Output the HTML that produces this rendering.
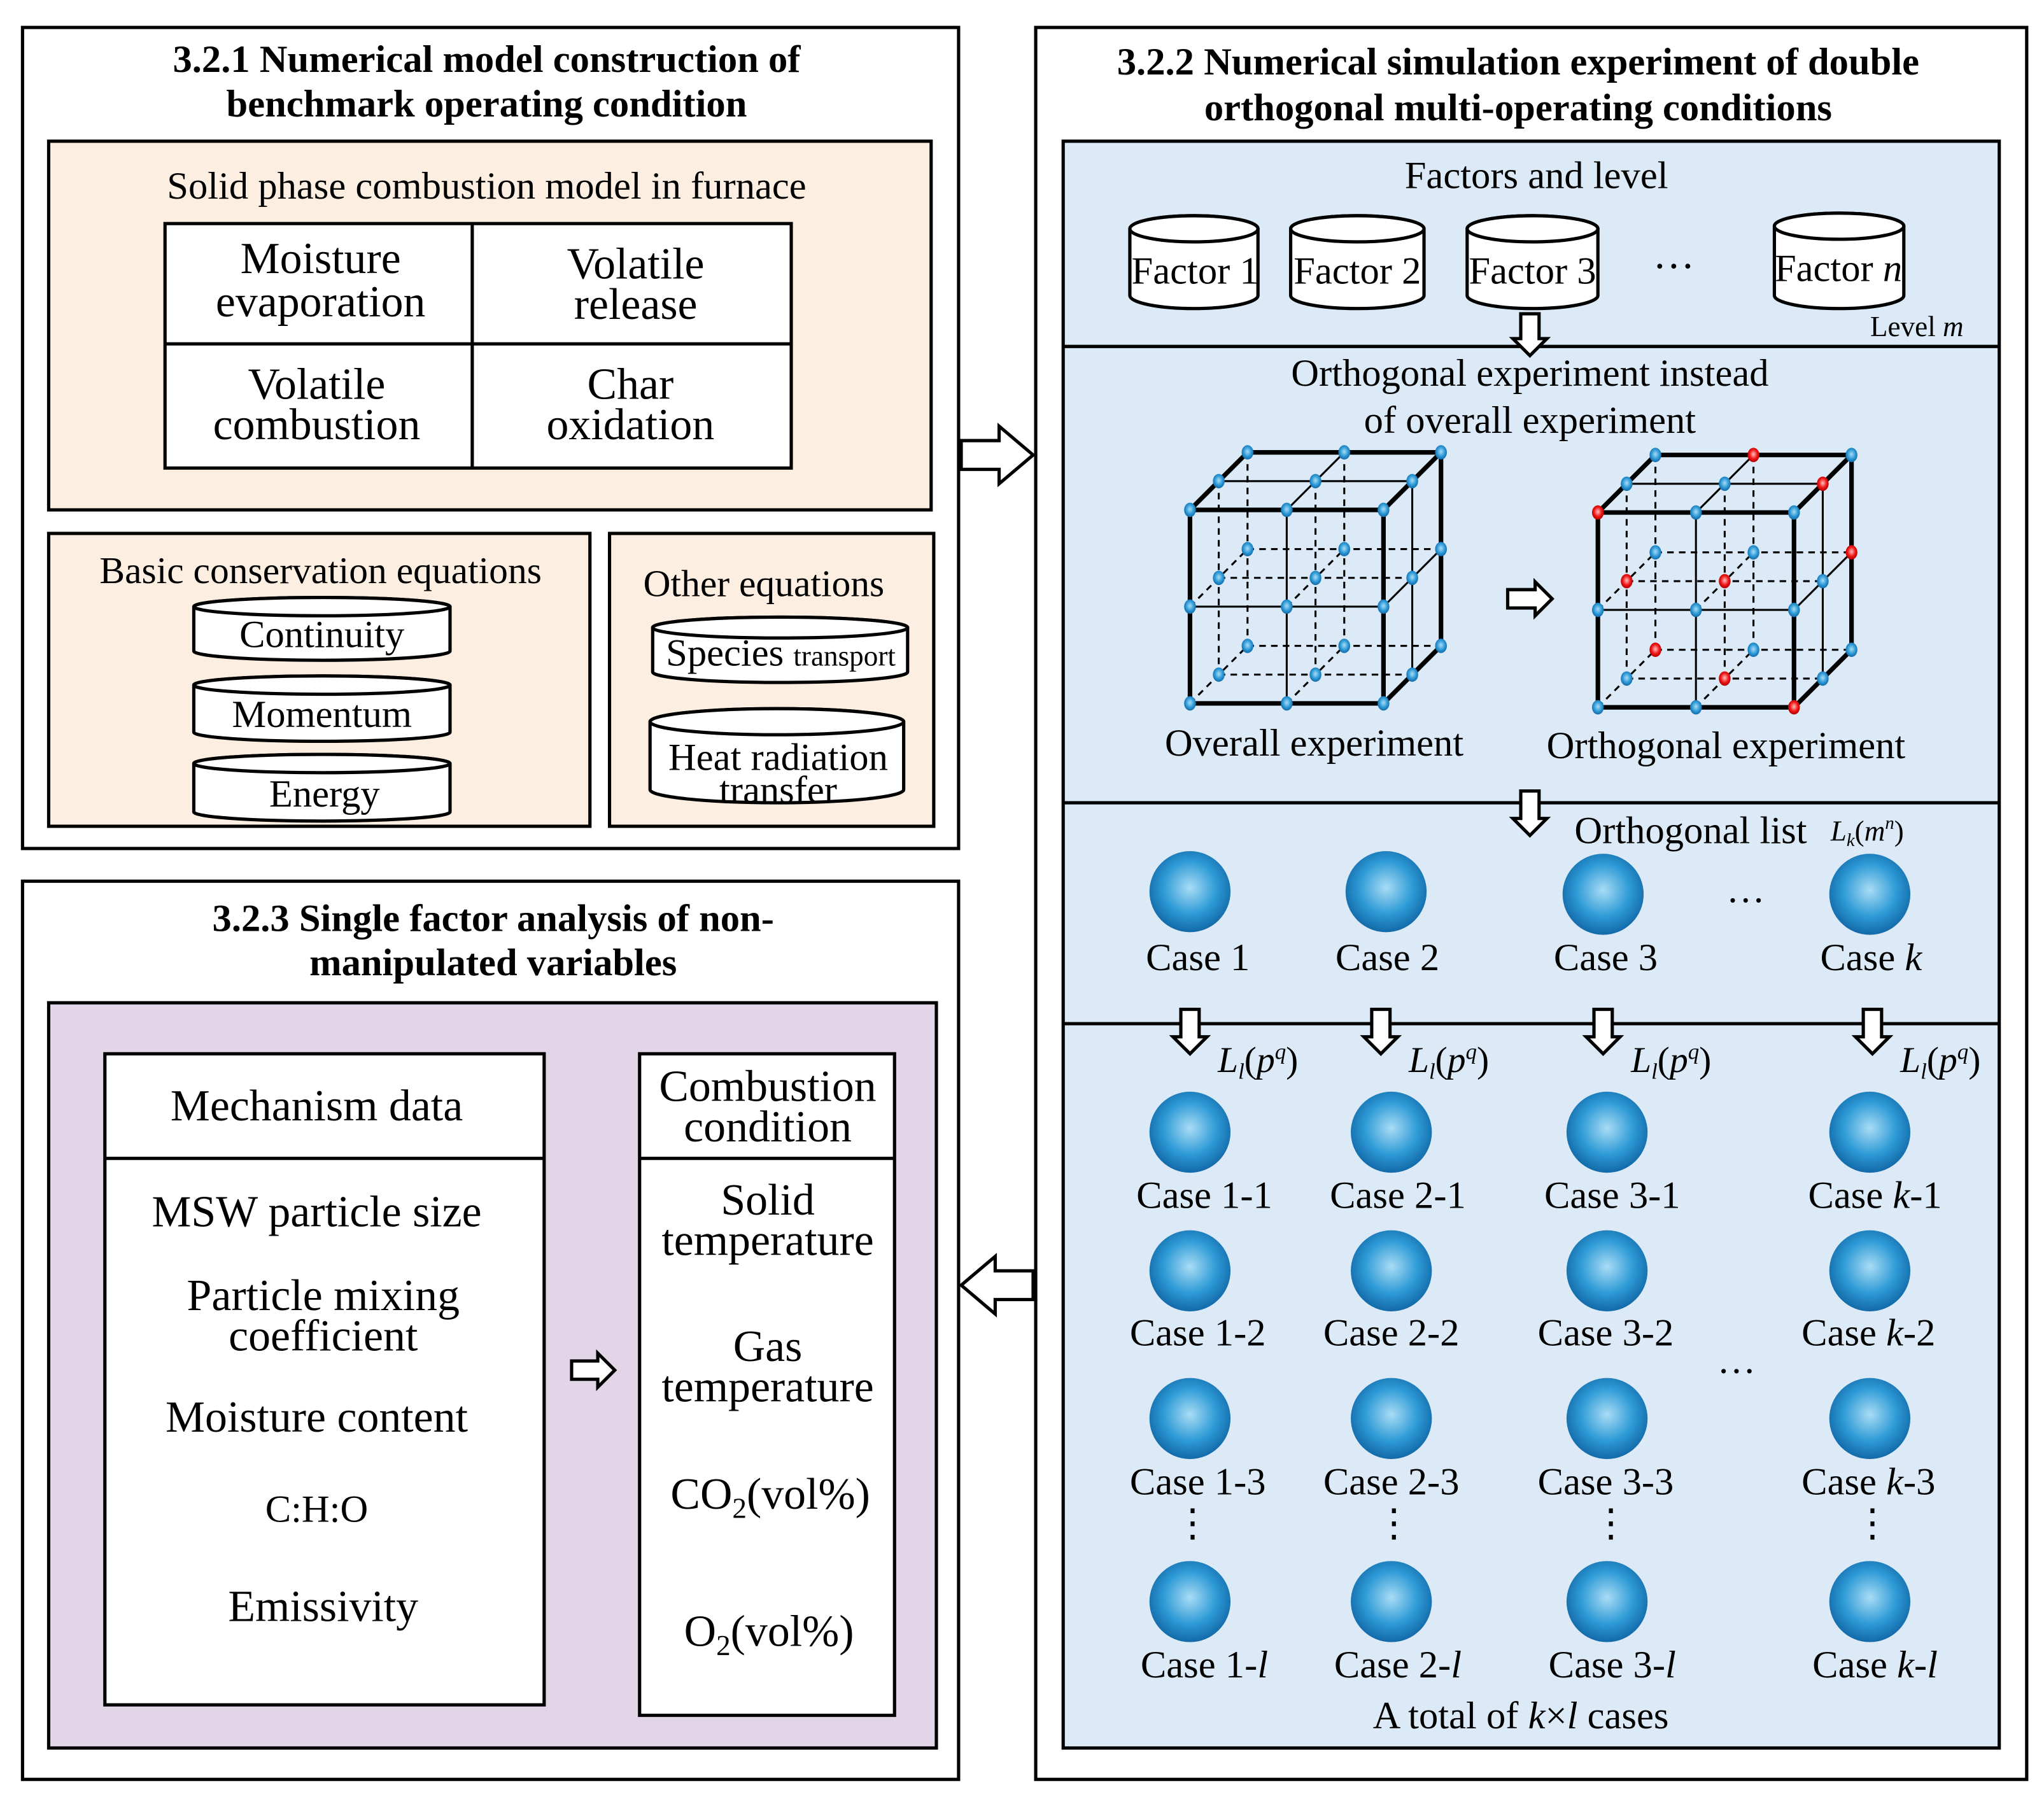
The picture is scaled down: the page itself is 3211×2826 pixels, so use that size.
<!DOCTYPE html>
<html><head><meta charset="utf-8"><style>
html,body{margin:0;padding:0;background:#fff}
svg{display:block}
text{font-family:"Liberation Serif",serif;fill:#000}
</style></head><body>
<svg id="s" width="3211" height="2826" viewBox="0 0 1563 1376" xmlns="http://www.w3.org/2000/svg">
<defs>
<radialGradient id="gb" cx="0.5" cy="0.45" r="0.55"><stop offset="0" stop-color="#a9dcf5"/><stop offset="0.6" stop-color="#2d9ad6"/><stop offset="1" stop-color="#1369a8"/></radialGradient>
<radialGradient id="gr" cx="0.5" cy="0.45" r="0.55"><stop offset="0" stop-color="#ffc0c0"/><stop offset="0.6" stop-color="#f01515"/><stop offset="1" stop-color="#b00000"/></radialGradient>
</defs>
<g fill="none" stroke="#000" stroke-width="2.5">
<rect x="17" y="21" width="716" height="628" fill="#fff"/>
<rect x="17" y="674" width="716" height="687" fill="#fff"/>
<rect x="792" y="21" width="758" height="1340" fill="#fff"/>
<rect x="37" y="108" width="675" height="282" fill="#fdeee2"/>
<rect x="37" y="408" width="414" height="224" fill="#fdeee2"/>
<rect x="466" y="408" width="248" height="224" fill="#fdeee2"/>
<rect x="37" y="767" width="679" height="570" fill="#e2d5e8"/>
<rect x="813" y="108" width="716" height="1229" fill="#dbeaf6"/>
<line x1="813" y1="265" x2="1529" y2="265"/><line x1="813" y1="614" x2="1529" y2="614"/><line x1="813" y1="783" x2="1529" y2="783"/>
<rect x="126" y="171" width="479" height="187" fill="#fff"/>
<line x1="361" y1="171" x2="361" y2="358"/><line x1="126" y1="263" x2="605" y2="263"/>
<rect x="80" y="806" width="336" height="498" fill="#fff"/><line x1="80" y1="886" x2="416" y2="886"/>
<rect x="489" y="806" width="195" height="506" fill="#fff"/><line x1="489" y1="886" x2="684" y2="886"/>
</g>
<g id="cyl" fill="#fff" stroke="#000" stroke-width="2.5"></g>
<g id="cube"></g>
<g id="arr" fill="#fff" stroke="#000" stroke-width="2.5"></g>
<g id="sph"></g>
<g font-size="29.5" font-weight="bold" text-anchor="middle">
<text x="372" y="55">3.2.1 Numerical model construction of</text>
<text x="372" y="89">benchmark operating condition</text>
<text x="1161" y="57">3.2.2 Numerical simulation experiment of double</text>
<text x="1161" y="92">orthogonal multi-operating conditions</text>
<text x="377" y="712">3.2.3 Single factor analysis of non-</text>
<text x="377" y="746">manipulated variables</text>
</g>
<g font-size="34" text-anchor="middle">
<text x="372" y="152" font-size="29.5">Solid phase combustion model in furnace</text>
<text x="245" y="209">Moisture</text><text x="245" y="242">evaporation</text>
<text x="486" y="213">Volatile</text><text x="486" y="244">release</text>
<text x="242" y="305">Volatile</text><text x="242" y="336">combustion</text>
<text x="482" y="305">Char</text><text x="482" y="336">oxidation</text>
<text x="245" y="446" font-size="29">Basic conservation equations</text>
<text x="584" y="456" font-size="29">Other equations</text>
<text x="246" y="495" font-size="29.5">Continuity</text>
<text x="246" y="556" font-size="29.5">Momentum</text>
<text x="248" y="617" font-size="29.5">Energy</text>
<text x="597" y="509" font-size="29.5">Species <tspan font-size="22">transport</tspan></text>
<text x="595" y="589" font-size="29.5">Heat radiation</text><text x="595" y="614" font-size="29.5">transfer</text>
<text x="242" y="857">Mechanism data</text>
<text x="587" y="842">Combustion</text><text x="587" y="873">condition</text>
<text x="242" y="938">MSW particle size</text>
<text x="247" y="1002">Particle mixing</text><text x="247" y="1033">coefficient</text>
<text x="242" y="1095">Moisture content</text>
<text x="242" y="1164" font-size="29.5">C:H:O</text>
<text x="247" y="1240">Emissivity</text>
<text x="587" y="929">Solid</text><text x="587" y="960">temperature</text>
<text x="587" y="1041">Gas</text><text x="587" y="1072">temperature</text>
<text x="589" y="1154">CO<tspan font-size="22" dy="7">2</tspan><tspan dy="-7">(vol%)</tspan></text>
<text x="588" y="1259">O<tspan font-size="22" dy="7">2</tspan><tspan dy="-7">(vol%)</tspan></text>
</g>
<g font-size="29.5" text-anchor="middle">
<text x="1175" y="144">Factors and level</text>
<text x="914" y="217">Factor 1</text><text x="1038" y="217">Factor 2</text><text x="1172" y="217">Factor 3</text>
<text x="1406" y="215">Factor <tspan font-style="italic">n</tspan></text>
<text x="1280" y="205" font-size="32">…</text>
<text x="1466" y="257" font-size="22">Level <tspan font-style="italic">m</tspan></text>
<text x="1170" y="295">Orthogonal experiment instead</text>
<text x="1170" y="331">of overall experiment</text>
<text x="1005" y="578">Overall experiment</text>
<text x="1320" y="580">Orthogonal experiment</text>
<text x="1293" y="645">Orthogonal list</text>
<text x="1428" y="643" font-size="22" font-style="italic">L<tspan font-size="14" dy="4">k</tspan><tspan font-style="normal" dy="-4">(</tspan>m<tspan font-size="14" dy="-9">n</tspan><tspan font-style="normal" dy="9">)</tspan></text>
<text x="1335" y="690">…</text>
<text x="1328" y="1050">…</text>
<text x="1163" y="1322">A total of <tspan font-style="italic">k</tspan>×<tspan font-style="italic">l</tspan> cases</text>
</g>
<g id="lab" font-size="29.5" text-anchor="middle"></g>
</svg>
<script>
const NS="http://www.w3.org/2000/svg";
function el(p,t,a,txt){const e=document.createElementNS(NS,t);for(const k in a)e.setAttribute(k,a[k]);if(txt!==undefined)e.innerHTML=txt;document.getElementById(p).appendChild(e);return e;}
function cyl(x,y,w,h,ry){el("cyl","path",{d:`M${x} ${y+ry} L${x} ${y+h-ry} A${w/2} ${ry} 0 0 0 ${x+w} ${y+h-ry} L${x+w} ${y+ry} A${w/2} ${ry} 0 0 0 ${x} ${y+ry} Z`});
el("cyl","ellipse",{cx:x+w/2,cy:y+ry,rx:w/2,ry:ry});}
cyl(148,457,196,48,7);cyl(148,517,196,50,7);cyl(148,577,196,51,7);
cyl(499,472,195,50,8);cyl(497,542,194,72,10);
cyl(864,165,98,71,10);cyl(987,165,102,71,10);cyl(1122,165,100,71,10);cyl(1357,163,99,73,10);
function cube(fx,fy,w,h,dx,dy,reds){
 const P=(i,j,k)=>[fx+i*w+k*dx,fy+j*h-k*dy];
 const vals=[0,0.5,1];
 function ln(a,b,vis,edge){el("cube","line",{x1:a[0],y1:a[1],x2:b[0],y2:b[1],stroke:"#000","stroke-width":edge?3.5:1.5,"stroke-dasharray":vis?"none":"5,4"});}
 for(const j of vals)for(const k of vals){const vis=(k==0||j==0);const edge=(j!=0.5&&k!=0.5);ln(P(0,j,k),P(1,j,k),vis,edge&&vis);}
 for(const i of vals)for(const k of vals){const vis=(k==0||i==1);const edge=(i!=0.5&&k!=0.5);ln(P(i,0,k),P(i,1,k),vis,edge&&vis);}
 for(const i of vals)for(const j of vals){const vis=(j==0||i==1);const edge=(i!=0.5&&j!=0.5);ln(P(i,j,0),P(i,j,1),vis,edge&&vis);}
 for(const k of [1,0.5,0])for(const i of vals)for(const j of vals){const p=P(i,j,k);const r=reds.includes(""+i+j+k);
  el("cube","ellipse",{cx:p[0],cy:p[1],rx:4.5,ry:5.5,fill:r?"url(#gr)":"url(#gb)"});}
}
cube(910,390,148,148,44,44,[]);
cube(1222,392,150,149,44,44,["0.501","100.5","10.51","00.50.5","0.50.50.5","011","0.510.5","110","000"]);
function arrR(x,y,L,t,hw,hl){el("arr","path",{d:`M${x} ${y-t} L${x+L-hl} ${y-t} L${x+L-hl} ${y-hw} L${x+L} ${y} L${x+L-hl} ${y+hw} L${x+L-hl} ${y+t} L${x} ${y+t} Z`});}
function arrL(x,y,L,t,hw,hl){el("arr","path",{d:`M${x} ${y-t} L${x-L+hl} ${y-t} L${x-L+hl} ${y-hw} L${x-L} ${y} L${x-L+hl} ${y+hw} L${x-L+hl} ${y+t} L${x} ${y+t} Z`});}
function arrD(x,y,L,t,hw,hl){el("arr","path",{d:`M${x-t} ${y} L${x-t} ${y+L-hl} L${x-hw} ${y+L-hl} L${x} ${y+L} L${x+hw} ${y+L-hl} L${x+t} ${y+L-hl} L${x+t} ${y} Z`});}
arrR(735,348,55,11,22,26);arrL(790,983,55,11,22,26);
arrR(437,1048,33,7,13,13);arrR(1153,458,34,7,13,13);
arrD(1170,240,32,7,13,13);arrD(1170,605,34,7,13,13);
for(const x of [910,1056,1226,1432])arrD(x,772,34,7,13,13);
function sph(x,y){el("sph","circle",{cx:x,cy:y,r:31,fill:"url(#gb)"});}
[[910,682],[1060,682],[1226,684],[1430,684]].forEach(p=>sph(p[0],p[1]));
const xs=[910,1064,1229,1430];
[866,972,1085,1225].forEach(y=>xs.forEach(x=>sph(x,y)));
el("lab","text",{x:916,y:742},"Case 1");el("lab","text",{x:1061,y:742},"Case 2");el("lab","text",{x:1228,y:742},"Case 3");
el("lab","text",{x:1431,y:742},'Case <tspan font-style="italic">k</tspan>');
const lx=[962,1108,1278,1484];
lx.forEach(x=>el("lab","text",{x:x,y:820,"font-style":"italic","font-size":28},'L<tspan font-size="17" dy="5">l</tspan><tspan font-style="normal" dy="-5">(</tspan>p<tspan font-size="17" dy="-10">q</tspan><tspan font-style="normal" dy="10">)</tspan>'));
const cx=[921,1069,1233,1434];const names=["1","2","3","k"];
const rows=[[924,"1"],[1029,"2"],[1143,"3"],[1283,"l"]];
rows.forEach((r,ri)=>cx.forEach((x,ci)=>{
 const a=names[ci]=="k"?'<tspan font-style="italic">k</tspan>':names[ci];
 const b=r[1]=="l"?'<tspan font-style="italic">l</tspan>':r[1];
 el("lab","text",{x:x-(ri==1||ri==2?5:0),y:r[0]},"Case "+a+"-"+b);}));
[912,1066,1232,1432].forEach(x=>el("lab","text",{x:x,y:1175},"⋮"));
</script>
</body></html>
